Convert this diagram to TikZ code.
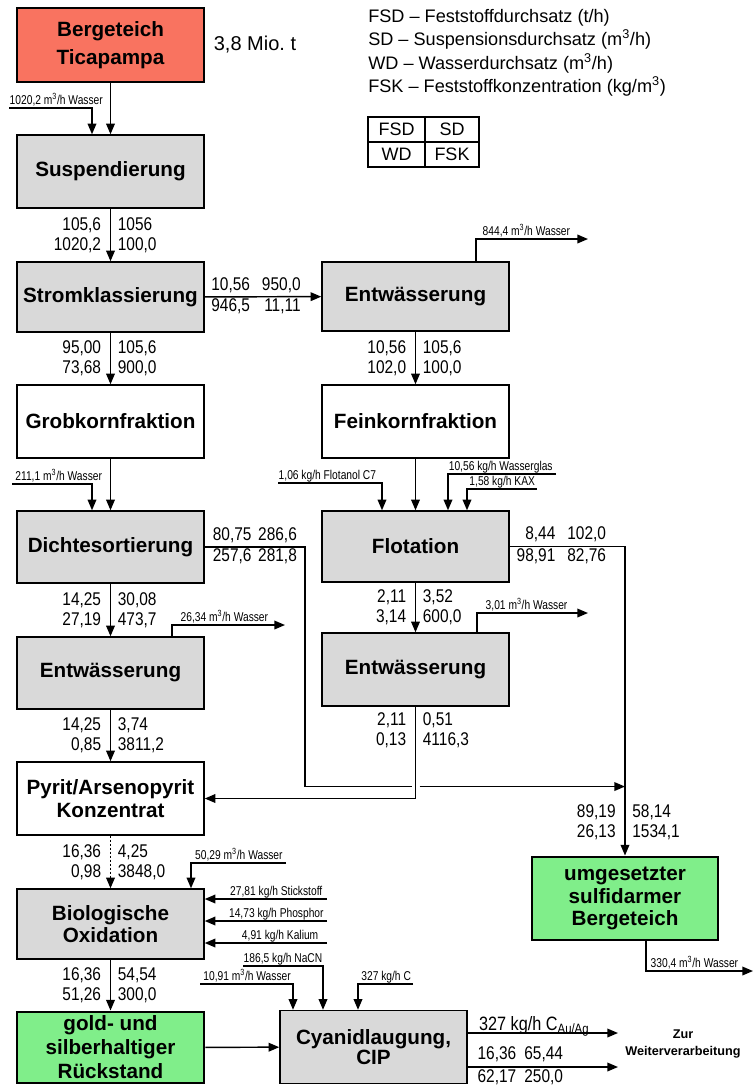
\documentclass[tikz,border=0pt]{standalone}
\usepackage{fontspec}
\setmainfont{Liberation Sans}
\newfontfamily\narrowfont[FakeStretch=0.84]{Liberation Sans}
\newfontfamily\tagfont[FakeStretch=0.8]{Liberation Sans}
\usepackage{tikz}
\usetikzlibrary{arrows.meta,positioning,calc}

\definecolor{pondred}{RGB}{249,115,96}
\definecolor{resgreen}{RGB}{128,238,138}
\definecolor{procgray}{RGB}{217,217,217}

\begin{document}
\begin{tikzpicture}[
  x=0.75pt, y=-0.75pt,
  box/.style={draw, line width=1.1pt, minimum width=140.25pt, minimum height=54.75pt, inner sep=0pt, align=center, font=\bfseries\fontsize{15.5}{17}\selectfont},
  proc/.style={box, fill=procgray},
  frac/.style={box, fill=white},
  pond/.style={box, line width=2.2pt, fill=pondred},
  res/.style={box, line width=2.2pt, fill=resgreen},
  ln/.style={line width=1.1pt},
  arr/.style={ln, -{Triangle[length=8pt,width=6.5pt]}},
  numfnt/.style={inner sep=0pt, font=\narrowfont\fontsize{13.8}{15}\selectfont},
  numL/.style={numfnt, anchor=east, xshift=-6.5pt, align=right},
  numR/.style={numfnt, anchor=west, xshift=5pt, align=left},
  numH/.style={numfnt},
  wl/.style={inner sep=0pt, yshift=2.5pt, font=\tagfont\fontsize{9.6}{10}\selectfont},
  tabtxt/.style={inner sep=0pt, font=\fontsize{13.5}{16}\selectfont}
]
\useasboundingbox (0,0) rectangle (755,1086);

% legend
\node[anchor=north west, inner sep=0pt, align=left, font=\fontsize{13.6}{17.6}\selectfont] (legend) at (368,9)
  {FSD -- Feststoffdurchsatz (t/h)\\SD -- Suspensionsdurchsatz (m\textsuperscript{3}/h)\\WD -- Wasserdurchsatz (m\textsuperscript{3}/h)\\FSK -- Feststoffkonzentration (kg/m\textsuperscript{3})};
\draw[line width=0.8pt] (368,117) rectangle (479,167) (425,117) -- (425,167) (368,142) -- (479,142);
\node[tabtxt] (tFSD) at (396.5,129.5) {FSD};
\node[tabtxt] (tSD) at (452,129.5) {SD};
\node[tabtxt] (tWD) at (396.5,154.5) {WD};
\node[tabtxt] (tFSK) at (452,154.5) {FSK};

% process boxes
\node[pond, minimum height=55.5pt] (berg) at (110.5,45) {Bergeteich\\[4pt]Ticapampa};
\node[font=\fontsize{15}{18}\selectfont, inner sep=0pt] (menge) at (255,45) {3,8 Mio.\ t};
\node[proc] (susp) at (110.5,171.5) {Suspendierung};
\node[proc, minimum height=52.5pt] (strom) at (110.5,297) {Stromklassierung};
\node[proc, minimum height=51.75pt] (entA) at (415.5,296.5) {Entwässerung};
\node[frac] (grob) at (110.5,421.5) {Grobkornfraktion};
\node[frac] (fein) at (415.5,421.5) {Feinkornfraktion};
\node[proc, minimum height=54pt] (dicht) at (110.5,547) {Dichtesortierung};
\node[proc, minimum height=53.25pt] (flot) at (415.5,546.5) {Flotation};
\node[proc, minimum height=54pt] (entB) at (110.5,673) {Entwässerung};
\node[proc] (entC) at (415.5,669.5) {Entwässerung};
\node[frac] (pyrit) at (110.5,798.5) {Pyrit/Arsenopyrit\\Konzentrat};
\node[proc, minimum height=52.5pt] (bio) at (110.5,924) {Biologische\\Oxidation};
\node[res, minimum height=53.25pt] (gold) at (110.5,1047.5) {gold- und\\[1pt]silberhaltiger\\[1pt]Rückstand};
\node[res, minimum height=62.25pt, minimum width=139.5pt] (umg) at (625,898.5) {umgesetzter\\sulfidarmer\\Bergeteich};
\node[proc] (cyan) at (373.5,1047) {Cyanidlaugung,\\[-2pt]CIP};
\node[font=\bfseries\fontsize{9.5}{12.75}\selectfont, align=center, inner sep=0pt] (zur) at (683,1043.5) {Zur\\Weiterverarbeitung};

% free ends
\coordinate (wSusp) at (9,108);
\coordinate (wEntA) at (588,239);
\coordinate (wDicht) at (12,484);
\coordinate (fFlot) at (278,483);
\coordinate (gFlot) at (556,474);
\coordinate (kFlot) at (537,489);
\coordinate (wEntB) at (285,625);
\coordinate (wEntC) at (588,613);
\coordinate (dKnee) at (305,547);
\coordinate (mrg) at ($(umg.north)+(0,-69)$);
\coordinate (wBio) at (286,863);
\coordinate (nBio) at (327,899);
\coordinate (pBio) at (327,921);
\coordinate (kBio) at (327,943);
\coordinate (wCyan) at (200,984);
\coordinate (naCyan) at (243,966);
\coordinate (cCyan) at (413,984);
\coordinate (oC) at (618,1033);
\coordinate (oS) at (618,1067);
\coordinate (wUmg) at (753,971);

% left line
\draw[arr] (berg) -- (susp);
\draw[arr] (wSusp) node[wl, anchor=base west] (lSusp) {1020,2 m\textsuperscript{3}/h Wasser} -| ($(susp.north)+(-18.5,0)$);
\draw[arr] (susp) -- node[numL] (nSuspL) {105,6\\1020,2} node[numR] (nSuspR) {1056\\100,0} (strom);
\draw[arr] (strom) -- node[numL] (nStromL) {95,00\\73,68} node[numR] (nStromR) {105,6\\900,0} (grob);
\draw[arr] (grob) -- (dicht);
\draw[arr] (wDicht) node[wl, anchor=base west, xshift=2pt] (lDicht) {211,1 m\textsuperscript{3}/h Wasser} -| ($(dicht.north)+(-18.5,0)$);
\draw[arr] (dicht) -- node[numL] (nDichtL) {14,25\\27,19} node[numR] (nDichtR) {30,08\\473,7} (entB);
\draw[arr] ($(entB.north)+(61.5,0)$) |- node[wl, pos=0.5, anchor=base west, xshift=6pt] (lEntB) {26,34 m\textsuperscript{3}/h Wasser} (wEntB);
\draw[arr] (entB) -- node[numL] (nEntBL) {14,25\\0,85} node[numR] (nEntBR) {3,74\\3811,2} (pyrit);
\draw[arr, dash pattern=on 1.5pt off 1.5pt] (pyrit) -- node[numL] (nPyrL) {16,36\\0,98} node[numR] (nPyrR) {4,25\\3848,0} (bio);
\draw[arr] (wBio) node[wl, anchor=base east, xshift=-2pt] (lBio) {50,29 m\textsuperscript{3}/h Wasser} -| ($(bio.north)+(80.5,0)$);
\draw[arr] (nBio) node[wl, anchor=base east, xshift=-3pt] (lN) {27,81 kg/h Stickstoff} -- (bio.east |- nBio);
\draw[arr] (pBio) node[wl, anchor=base east, xshift=-2pt] (lP) {14,73 kg/h Phosphor} -- (bio.east |- pBio);
\draw[arr] (kBio) node[wl, anchor=base east, xshift=-6pt] (lK) {4,91 kg/h Kalium} -- (bio.east |- kBio);
\draw[arr] (bio) -- node[numL] (nBioL) {16,36\\51,26} node[numR] (nBioR) {54,54\\300,0} (gold);
\draw[arr] (gold) -- (cyan);

% right line
\draw[arr] (strom) -- node[numH, pos=0.44] (nStromH) {\begin{tabular}{@{}r@{\hspace{9pt}}r@{}}10,56 & 950,0\\[1pt]946,5 & 11,11\end{tabular}} (entA);
\draw[arr] ($(entA.north)+(60.5,0)$) |- node[wl, pos=0.5, anchor=base west, xshift=4.5pt] (lEntA) {844,4 m\textsuperscript{3}/h Wasser} (wEntA);
\draw[arr] (entA) -- node[numL] (nEntAL) {10,56\\102,0} node[numR] (nEntAR) {105,6\\100,0} (fein);
\draw[arr] (fein) -- (flot);
\draw[arr] (fFlot) node[wl, anchor=base west] (lF) {1,06 kg/h Flotanol C7} -| ($(flot.north)+(-33.5,0)$);
\draw[arr] (gFlot) node[wl, anchor=base east, xshift=-2pt] (lG) {10,56 kg/h Wasserglas} -| ($(flot.north)+(32.5,0)$);
\draw[arr] (kFlot) node[wl, anchor=base east, xshift=-1pt] (lKAX) {1,58 kg/h KAX} -| ($(flot.north)+(51.5,0)$);
\draw[arr] (flot) -- node[numL] (nFlotL) {2,11\\3,14} node[numR] (nFlotR) {3,52\\600,0} (entC);
\draw[arr] ($(entC.north)+(61.5,0)$) |- node[wl, pos=0.5, anchor=base west, xshift=6pt] (lEntC) {3,01 m\textsuperscript{3}/h Wasser} (wEntC);
\draw[arr] (flot.east) -| node[numH, pos=0.224] (nFlotH) {\begin{tabular}{@{}r@{\hspace{9pt}}r@{}}8,44 & 102,0\\[1pt]98,91 & 82,76\end{tabular}}
  node[numL, pos=0.946] (nUmgL) {89,19\\26,13} node[numR, pos=0.946] (nUmgR) {58,14\\1534,1} (umg.north);
\draw[arr] (entC.south) |- node[numL, pos=0.13] (nEntCL) {2,11\\0,13} node[numR, pos=0.13] (nEntCR) {0,51\\4116,3} (pyrit.east);
\draw[ln] (dicht.east) -- node[numH] (nDichtH) {\begin{tabular}{@{}r@{\hspace{5pt}}r@{}}80,75 & 286,6\\[1pt]257,6 & 281,8\end{tabular}} (dKnee) |- ($(entC.south |- mrg)+(-4,0)$);
\draw[arr] ($(entC.south |- mrg)+(4,0)$) -- (mrg);
\draw[arr] ($(umg.south)+(21,0)$) |- node[wl, pos=0.5, anchor=base west, xshift=3pt] (lUmg) {330,4 m\textsuperscript{3}/h Wasser} (wUmg);

% cyanide leaching
\draw[arr] (wCyan) node[wl, anchor=base west, xshift=2pt] (lWC) {10,91 m\textsuperscript{3}/h Wasser} -| ($(cyan.north)+(-80.5,0)$);
\draw[arr] (naCyan) node[wl, anchor=base west] (lNa) {186,5 kg/h NaCN} -| ($(cyan.north)+(-50.5,0)$);
\draw[arr] (cCyan) node[wl, anchor=base east, xshift=-1pt] (lC) {327 kg/h C} -| ($(cyan.north)+(-15.5,0)$);
\draw[arr] (cyan.east |- oC) node[anchor=base west, inner sep=0pt, xshift=8pt, yshift=2pt, font=\narrowfont\fontsize{14.5}{16}\selectfont] (lCAu) {327 kg/h C\textsubscript{Au/Ag}} -- (oC);
\draw[arr] (cyan.east |- oS) -- node[numH, pos=0.35] (nCyanH) {\begin{tabular}{@{}l@{\hspace{6pt}}l@{}}16,36 & 65,44\\[2pt]62,17 & 250,0\end{tabular}} (oS);
\end{tikzpicture}
\end{document}
